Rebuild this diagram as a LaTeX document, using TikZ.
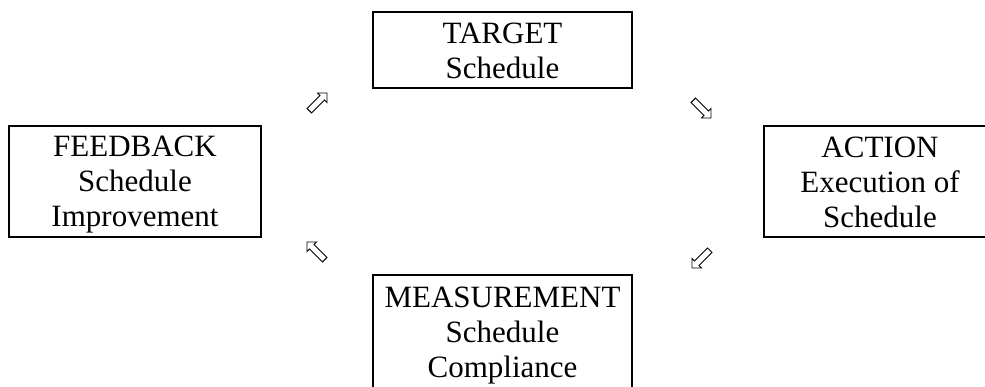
\documentclass[tikz,border=0pt]{standalone}
\usepackage{fontspec}
\setmainfont{Liberation Serif}
\usetikzlibrary{shapes.arrows}
\newcommand\ls{\rule[-4pt]{0pt}{30pt}}
\tikzset{
  stagebox/.style={draw, line width=1.7pt, inner sep=0pt, align=center,
    font=\fontsize{31}{35}\selectfont},
  cyclearrow/.style={single arrow, draw, line width=0.9pt, minimum height=25pt,
    minimum width=13pt, inner sep=2.8pt, single arrow head extend=3.4pt},
}
\begin{document}
\begin{tikzpicture}[x=1pt,y=1pt]
\useasboundingbox (0,0) rectangle (985,386);
\node[stagebox, minimum width=259pt, minimum height=76pt] (target) at (502.5,336) {\ls TARGET\\\ls Schedule};
\node[stagebox, minimum width=252pt, minimum height=111pt] (feedback) at (135,204.5) {\ls FEEDBACK\\\ls Schedule\\\ls Improvement};
\node[stagebox, minimum width=232pt, minimum height=111pt] (action) at (880,204.5) {\ls ACTION\\\ls Execution of\\\ls Schedule};
\node[stagebox, minimum width=259pt, minimum height=115pt] (measure) at (502.5,53.5) {\ls MEASUREMENT\\\ls Schedule\\\ls Compliance};
\node[cyclearrow, rotate=45] (a1) at (317,283) {};
\node[cyclearrow, rotate=-45] (a2) at (701,278) {};
\node[cyclearrow, rotate=-135] (a3) at (702,128) {};
\node[cyclearrow, rotate=135] (a4) at (317,134) {};
\end{tikzpicture}
\end{document}
